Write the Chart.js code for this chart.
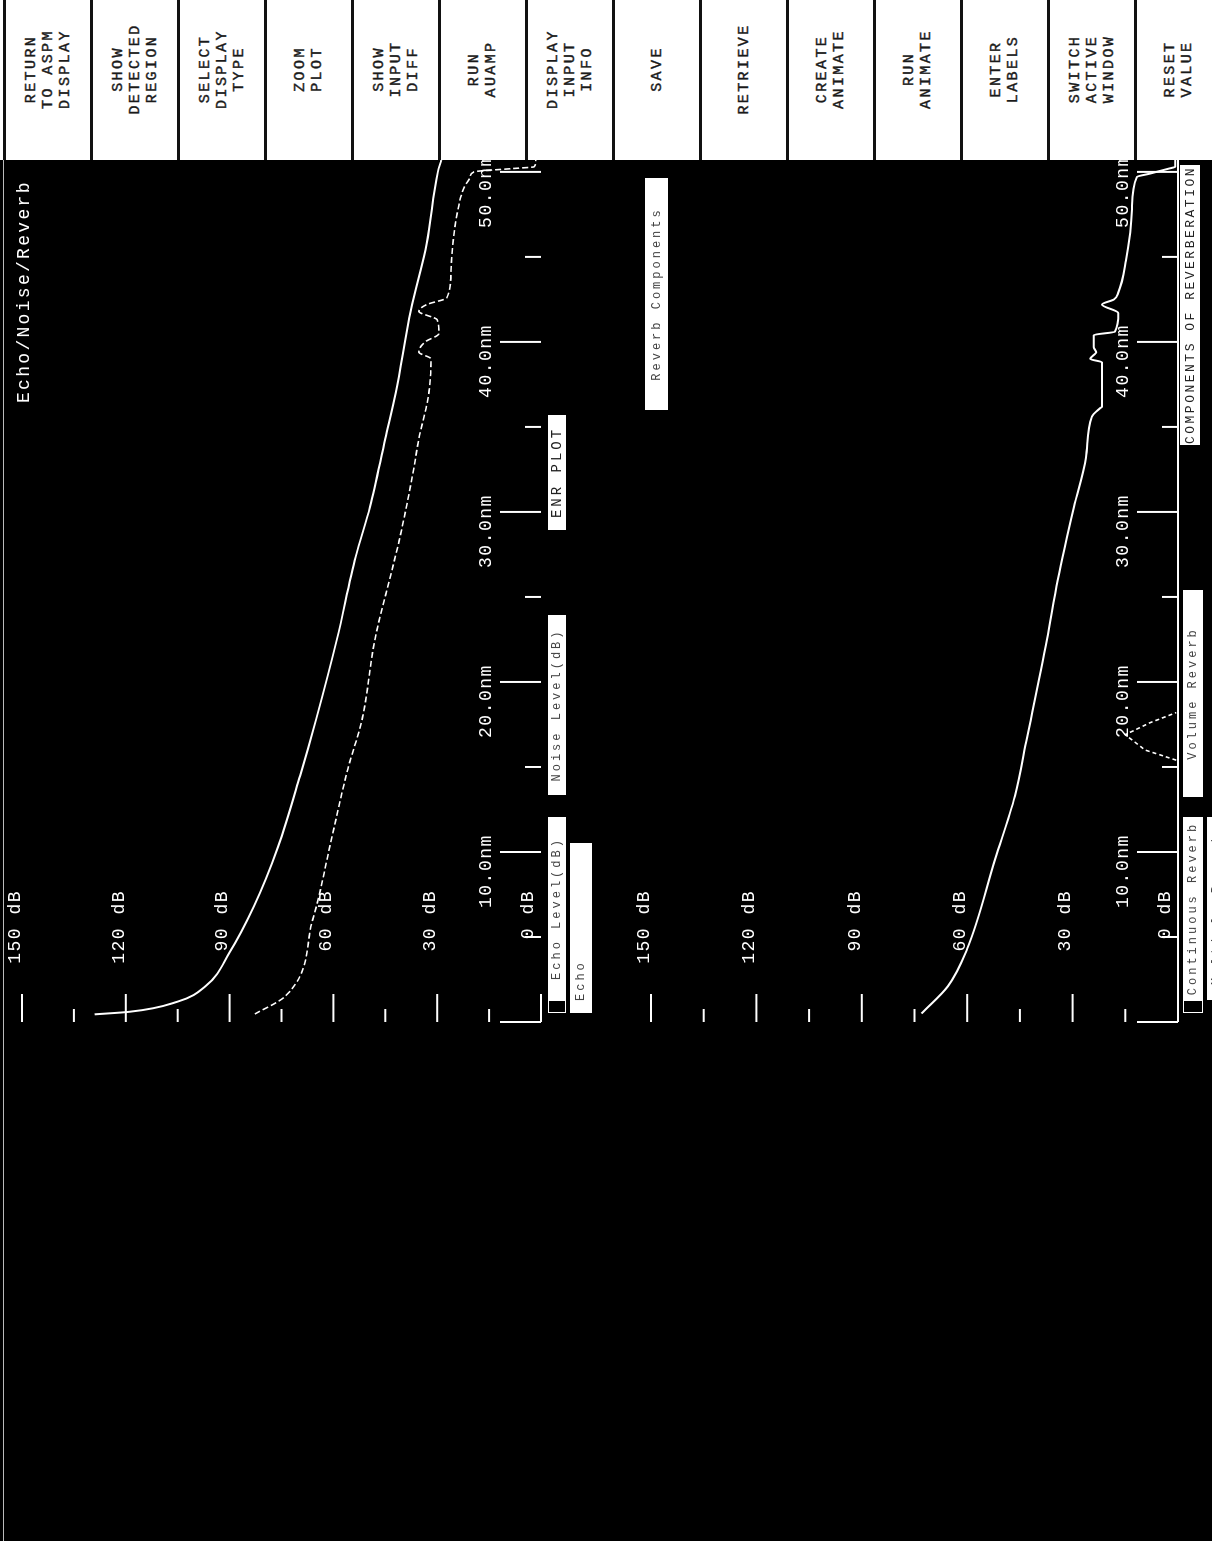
<!DOCTYPE html>
<html>
<head>
<meta charset="utf-8">
<script src="https://cdn.jsdelivr.net/npm/chart.js@4.4.1/dist/chart.umd.min.js"></script>
<style>
body { margin: 0; width: 1212px; height: 1541px; background: #000; overflow: hidden; }
/* the scope screen is drawn upright, then turned a quarter turn like the scan */
#screen {
  position: absolute; left: 0; top: 0; width: 1541px; height: 1212px;
  background: #000; overflow: hidden;
  transform-origin: 0 0; transform: translate(0, 1541px) rotate(-90deg);
  font-family: 'Liberation Mono', 'DejaVu Sans Mono', monospace;
}
#upper { position: absolute; left: 0; top: 0; }
#lower { position: absolute; left: 0; top: 600px; }
#edge { position: absolute; left: 0; top: 3px; width: 1381px; height: 1px; background: #bbb; }
#menu { position: absolute; left: 1381px; top: 0; width: 160px; height: 1212px; background: #fff; }
.btn {
  position: absolute; left: 0; width: 160px; height: 87px; box-sizing: border-box;
  border-top: 3px solid #111; display: flex; align-items: center; justify-content: center;
  padding-left: 22px; text-align: center; font-size: 15px;
  line-height: 17px; color: #1a1a1a; letter-spacing: 2.4px;
  -webkit-text-stroke: 0.4px #1a1a1a;
}
.box {
  position: absolute; background: #fff; color: #444; font-size: 12px; letter-spacing: 3px;
  white-space: nowrap; overflow: hidden; display: flex; align-items: center; justify-content: center;
}
.icon { position: absolute; background: #000; border: 1px solid #fff; box-sizing: border-box; }
.title { position: absolute; color: #fff; font-size: 18px; letter-spacing: 2.3px; white-space: nowrap; line-height: 20px; }
</style>
</head>
<body>
<div id="screen">
  <div id="edge"></div>
  <canvas id="upper" width="1381" height="600"></canvas>
  <canvas id="lower" width="1381" height="612"></canvas>
  <div id="menu"></div>
  <div class="title" style="left:1138px; top:14px;">Echo/Noise/Reverb</div>

  <div class="icon" style="left:528px; top:548px; width:13px; height:18px;"></div>
  <div class="box" style="left:541px; top:548px; width:183px; height:18px;">Echo Level(dB)</div>
  <div class="box" style="left:746px; top:548px; width:180px; height:18px;">Noise Level(dB)</div>
  <div class="box" style="left:1011px; top:548px; width:115px; height:18px; font-size:14px; color:#222;">ENR PLOT</div>
  <div class="box" style="left:528px; top:570px; width:158px; height:22px; justify-content:flex-start; padding-left:12px;">Echo</div>

  <div class="box" style="left:1131px; top:645px; width:232px; height:23px;">Reverb Components</div>
  <div class="box" style="left:1096px; top:1180px; width:280px; height:20px; font-size:13px; letter-spacing:2.5px; color:#222;">COMPONENTS OF REVERBERATION</div>
  <div class="box" style="left:744px; top:1183px; width:207px; height:20px;">Volume Reverb</div>
  <div class="icon" style="left:528px; top:1183px; width:13px; height:20px;"></div>
  <div class="box" style="left:541px; top:1183px; width:183px; height:20px;">Continuous Reverb</div>
  <div class="box" style="left:541px; top:1207px; width:183px; height:20px;">Multiple Reverb</div>
</div>

<script>
// range axis (nautical miles) and level axis (dB)
const nmTicks = [0, 5, 10, 15, 20, 25, 30, 35, 40, 45, 50];
const nmLabelValues = [10, 20, 30, 40, 50];
const nmLabels = ['10.0nm', '20.0nm', '30.0nm', '40.0nm', '50.0nm'];
const dbTicks = [0, 15, 30, 45, 60, 75, 90, 105, 120, 135, 150];
const dbLabelValues = [0, 30, 60, 90, 120, 150];
const dbLabels = ['0 dB', '30 dB', '60 dB', '90 dB', '120 dB', '150 dB'];

// upper plot: echo level (solid)
const echoRange = [0.45, 0.6, 1.2, 2.1, 4.1, 6.8, 10.3, 14.5, 17.8, 22.5, 27.4, 30.3, 34.3, 37.0, 41.9, 45.8, 50.0, 50.7];
const echoLevel = [129, 119, 105, 97, 90, 83, 76, 69.6, 65, 59, 53.5, 49.4, 45, 42, 37.6, 33, 29.8, 28.8];

// upper plot: noise + reverb level (dashed)
const noiseRange = [0.47, 1.5, 6.0, 10.9, 14.9, 17.8, 22.5, 26.4, 28.3, 32.3, 34.3, 37.0, 39.0, 39.4, 40.0, 40.5, 41.3, 41.8, 42.2, 42.6, 44.2, 47.8, 49.1, 49.7, 50.0, 50.2, 50.3, 50.7];
const noiseLevel = [82.7, 74, 66, 60.4, 55.8, 51.7, 48, 43.3, 41, 37, 35.3, 32.4, 31.8, 35.3, 33.5, 29.5, 30, 35.3, 33, 27.2, 26, 24, 22.2, 20.5, 19.4, 8, 2, 1.5];

// lower plot: reverberation (solid)
const reverbRange = [0.5, 2.1, 4.3, 9.6, 13.3, 16.7, 22.5, 26.0, 30.3, 33.2, 35.6, 36.1, 36.2, 38.8, 39.0, 39.4, 39.7, 40.4, 40.6, 41.7, 42.2, 42.5, 42.9, 44.8, 47.8, 49.7, 49.9, 50.2, 50.3, 50.7];
const reverbLevel = [73, 65.5, 60, 52, 46.4, 43, 37.3, 34.2, 29.6, 26.2, 24.5, 22.2, 21.6, 21.6, 25, 23.3, 24, 24, 18, 17, 21.6, 18.2, 17, 14.8, 13.1, 11.7, 8, 2.5, 0.8, 0.8];

// lower plot: short reverb spike (dashed)
const spikeRange = [15.4, 16.0, 16.9, 17.6, 18.2];
const spikeLevel = [0.5, 9.4, 15, 8, 0.5];

const menuLabels = [
  ['RETURN', 'TO ASPM', 'DISPLAY'],
  ['SHOW', 'DETECTED', 'REGION'],
  ['SELECT', 'DISPLAY', 'TYPE'],
  ['ZOOM', 'PLOT'],
  ['SHOW', 'INPUT', 'DIFF'],
  ['RUN', 'AUAMP'],
  ['DISPLAY', 'INPUT', 'INFO'],
  ['SAVE'],
  ['RETRIEVE'],
  ['CREATE', 'ANIMATE'],
  ['RUN', 'ANIMATE'],
  ['ENTER', 'LABELS'],
  ['SWITCH', 'ACTIVE', 'WINDOW'],
  ['RESET', 'VALUE'],
];

function toPoints(range, level) {
  return range.map((r, i) => ({ x: r, y: level[i] }));
}

function buildMenu() {
  const menu = document.getElementById('menu');
  menuLabels.forEach((lines, i) => {
    const btn = document.createElement('div');
    btn.className = 'btn';
    btn.style.top = 3 + i * 87 + 'px';
    btn.innerHTML = lines.join('<br>');
    menu.appendChild(btn);
  });
}

// ticks and labels sit inside the plot, like the old scope display
const scopeAxes = {
  id: 'scopeAxes',
  afterDatasetsDraw(chart, args, opts) {
    const ctx = chart.ctx;
    const xs = chart.scales.x;
    const ys = chart.scales.y;
    const x0 = xs.getPixelForValue(0);
    const yBase = ys.getPixelForValue(0);

    ctx.save();
    ctx.strokeStyle = '#fff';
    ctx.fillStyle = '#fff';
    ctx.lineWidth = 2;

    if (opts.baseline) {
      ctx.beginPath();
      ctx.moveTo(x0, yBase);
      ctx.lineTo(chart.chartArea.right, yBase);
      ctx.stroke();
    }

    dbTicks.forEach((v) => {
      const y = ys.getPixelForValue(v);
      const len = v % 30 === 0 ? 28 : 13;
      ctx.beginPath();
      ctx.moveTo(x0, y);
      ctx.lineTo(x0 + len, y);
      ctx.stroke();
    });

    nmTicks.forEach((v) => {
      const x = xs.getPixelForValue(v);
      const len = v % 10 === 0 ? 41 : 16;
      ctx.beginPath();
      ctx.moveTo(x, yBase);
      ctx.lineTo(x, yBase - len);
      ctx.stroke();
    });

    ctx.font = '18px "Liberation Mono"';
    ctx.letterSpacing = '1.5px';
    ctx.textBaseline = 'middle';

    ctx.textAlign = 'right';
    dbLabelValues.forEach((v, i) => {
      const y = ys.getPixelForValue(v);
      ctx.fillText(dbLabels[i], x0 + 132, y - (v === 0 ? 13 : 7));
    });

    ctx.textAlign = 'left';
    nmLabelValues.forEach((v, i) => {
      const x = xs.getPixelForValue(v);
      ctx.fillText(nmLabels[i], x - 56, yBase - 55);
    });

    ctx.restore();
  },
};

function makeScope(id, datasets, padding, baseline) {
  return new Chart(document.getElementById(id), {
    type: 'line',
    data: { datasets },
    options: {
      responsive: false,
      animation: false,
      layout: { padding },
      scales: {
        x: { type: 'linear', min: 0, max: 50.7, display: false },
        y: { min: 0, max: 150, display: false },
      },
      plugins: {
        legend: { display: false },
        tooltip: { enabled: false },
        scopeAxes: { baseline },
      },
    },
    plugins: [scopeAxes],
  });
}

function start() {
  buildMenu();

  makeScope('upper', [
    {
      label: 'Echo',
      data: toPoints(echoRange, echoLevel),
      borderColor: '#fff',
      borderWidth: 2,
      pointRadius: 0,
      cubicInterpolationMode: 'monotone',
    },
    {
      label: 'Noise',
      data: toPoints(noiseRange, noiseLevel),
      borderColor: '#fff',
      borderWidth: 1.6,
      borderDash: [6, 3],
      pointRadius: 0,
      cubicInterpolationMode: 'monotone',
    },
  ], { left: 519, top: 22, right: 0, bottom: 59 }, false);

  makeScope('lower', [
    {
      label: 'Reverb',
      data: toPoints(reverbRange, reverbLevel),
      borderColor: '#fff',
      borderWidth: 2,
      pointRadius: 0,
      cubicInterpolationMode: 'monotone',
    },
    {
      label: 'Spike',
      data: toPoints(spikeRange, spikeLevel),
      borderColor: '#fff',
      borderWidth: 1.6,
      borderDash: [4, 3],
      pointRadius: 0,
    },
  ], { left: 519, top: 51, right: 0, bottom: 34 }, true);
}
window.addEventListener('load', start);
</script>
</body>
</html>
